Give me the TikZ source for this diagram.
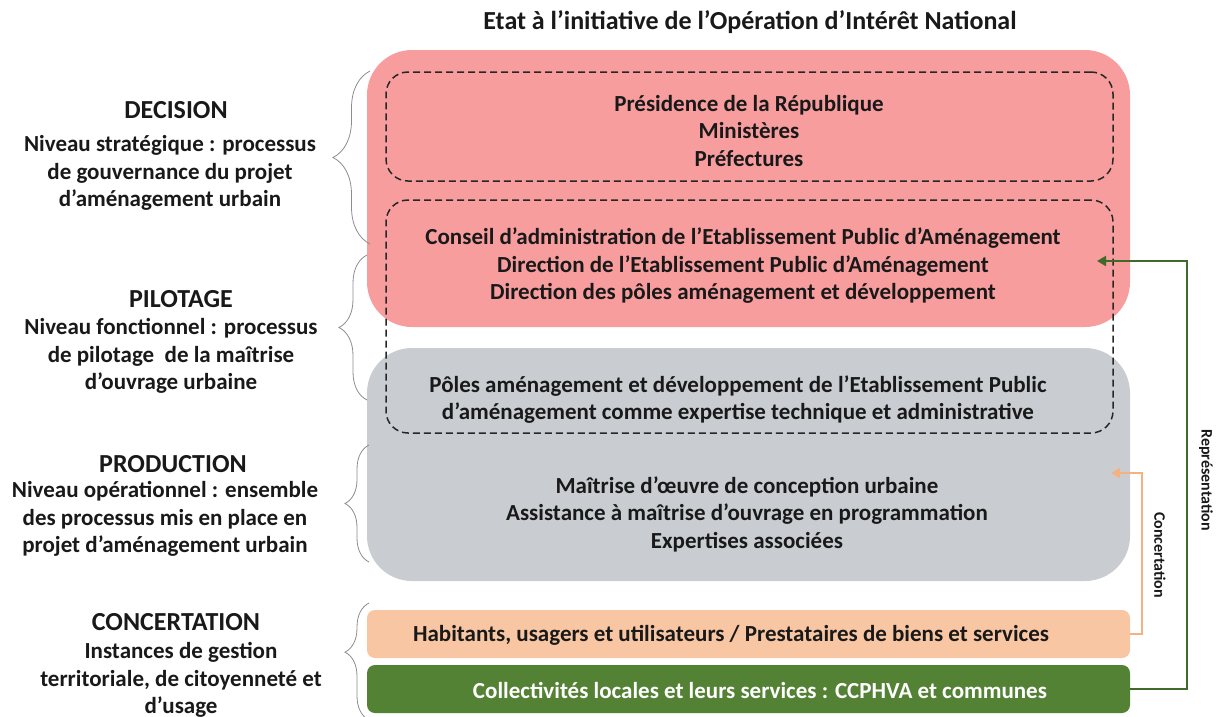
\documentclass[tikz,border=0pt]{standalone}
\usepackage{fontspec}
\setmainfont{Carlito}
\usetikzlibrary{arrows.meta,decorations.pathreplacing}

\definecolor{pilred}{HTML}{F89D9E}
\definecolor{prodgray}{HTML}{C9CDD1}
\definecolor{concpeach}{HTML}{F8C6A2}
\definecolor{colgreen}{HTML}{548235}
\definecolor{repgreen}{HTML}{3F6A2B}
\definecolor{concline}{HTML}{F4B183}
\definecolor{bracegray}{HTML}{8C8C8C}

\begin{document}
\begin{tikzpicture}[x=1pt, y=-1pt,
	every node/.style={font=\bfseries\fontsize{23}{27.5}\selectfont, text=black!90, align=center},
	bigbox/.style={rounded corners=45pt, minimum width=763pt, inner sep=0pt},
	dashbox/.style={draw=black!85, line width=1.5pt, dash pattern=on 7pt off 4pt, rounded corners=22pt, minimum width=727pt, inner sep=0pt},
	smallbox/.style={rounded corners=8pt, minimum width=763pt, minimum height=48pt, inner sep=0pt},
	header/.style={font=\bfseries\fontsize{26}{28}\selectfont},
	levelbrace/.style={draw=bracegray, line width=0.8pt, decorate},
	sidelabel/.style={rotate=-90, font=\bfseries\fontsize{16}{18}\selectfont}]
	\useasboundingbox (0,0) rectangle (1219,716);

	% Title
	\node[font=\bfseries\fontsize{26}{28}\selectfont] (title) at (750,22) {Etat à l’initiative de l’Opération d’Intérêt National};

	% Coloured levels
	\node[bigbox, fill=pilred, minimum height=277pt] (decision) at (748.5,188.5) {};
	\node[bigbox, fill=prodgray, minimum height=233pt] (production) at (748.5,464.5) {};
	\node[smallbox, fill=concpeach] (habitants) at (748.5,634) {};
	\node[smallbox, fill=colgreen] (collectivites) at (748.5,689) {};

	% Dashed groups
	\node[dashbox, minimum height=109pt] (etat) at (749.5,126.5) {};
	\node[dashbox, minimum height=233pt] (epa) at (749.5,316.5) {};

	% Texts inside the boxes
	\node (etattext) at (749,131) {Présidence de la République\\Ministères\\Préfectures};
	\node (epatext) at (743,266) {Conseil d’administration de l’Etablissement Public d’Aménagement\\Direction de l’Etablissement Public d’Aménagement\\Direction des pôles aménagement et développement};
	\node (polestext) at (738,399.5) {Pôles aménagement et développement de l’Etablissement Public\\d’aménagement comme expertise technique et administrative};
	\node (prodtext) at (747,514) {Maîtrise d’œuvre de conception urbaine\\Assistance à maîtrise d’ouvrage en programmation\\Expertises associées};
	\node (habtext) at (731,635) {Habitants, usagers et utilisateurs / Prestataires de biens et services};
	\node[text=white] (coltext) at (760,690) {Collectivités locales et leurs services : CCPHVA et communes};

	% Levels on the left
	\node[header] (dech) at (176,110) {DECISION};
	\node (decb) at (170,173) {Niveau stratégique : processus\\de gouvernance du projet\\d’aménagement urbain};
	\node[header] (pilh) at (181,299) {PILOTAGE};
	\node (pilb) at (171,356) {Niveau fonctionnel : processus\\de pilotage~ de la maîtrise\\d’ouvrage urbaine};
	\node[header] (prodh) at (173,464) {PRODUCTION};
	\node (prodb) at (165,519) {Niveau opérationnel : ensemble\\des processus mis en place en\\projet d’aménagement urbain};
	\node[header] (conch) at (176,622) {CONCERTATION};
	\node (concb) at (181,680) {Instances de gestion\\territoriale, de citoyenneté et\\d’usage};

	% Braces
	\draw[levelbrace, decoration={brace, amplitude=37pt}] (370,244) -- (370,71);
	\draw[levelbrace, decoration={brace, amplitude=28pt}] (367,400) -- (367,255);
	\draw[levelbrace, decoration={brace, amplitude=24pt}] (369,562) -- (369,445);
	\draw[levelbrace, decoration={brace, amplitude=24pt, aspect=0.58}] (369,720) -- (369,603);

	% Feedback arrows
	\coordinate (repcorner) at (1187,261);
	\coordinate (reptip) at (1097,261);
	\coordinate (conccorner) at (1142,473);
	\coordinate (conctip) at (1111,473);
	\draw[repgreen, line width=2pt, -{Triangle[length=9pt, width=10pt]}] (collectivites.east) -| (repcorner) -- (reptip);
	\draw[concline, line width=2pt, -{Triangle[length=9pt, width=10pt]}] (habitants.east) -| (conccorner) -- (conctip);
	\node[sidelabel] (replabel) at (1206,480) {Représentation};
	\node[sidelabel] (conclabel) at (1160,555) {Concertation};

\end{tikzpicture}
\end{document}
